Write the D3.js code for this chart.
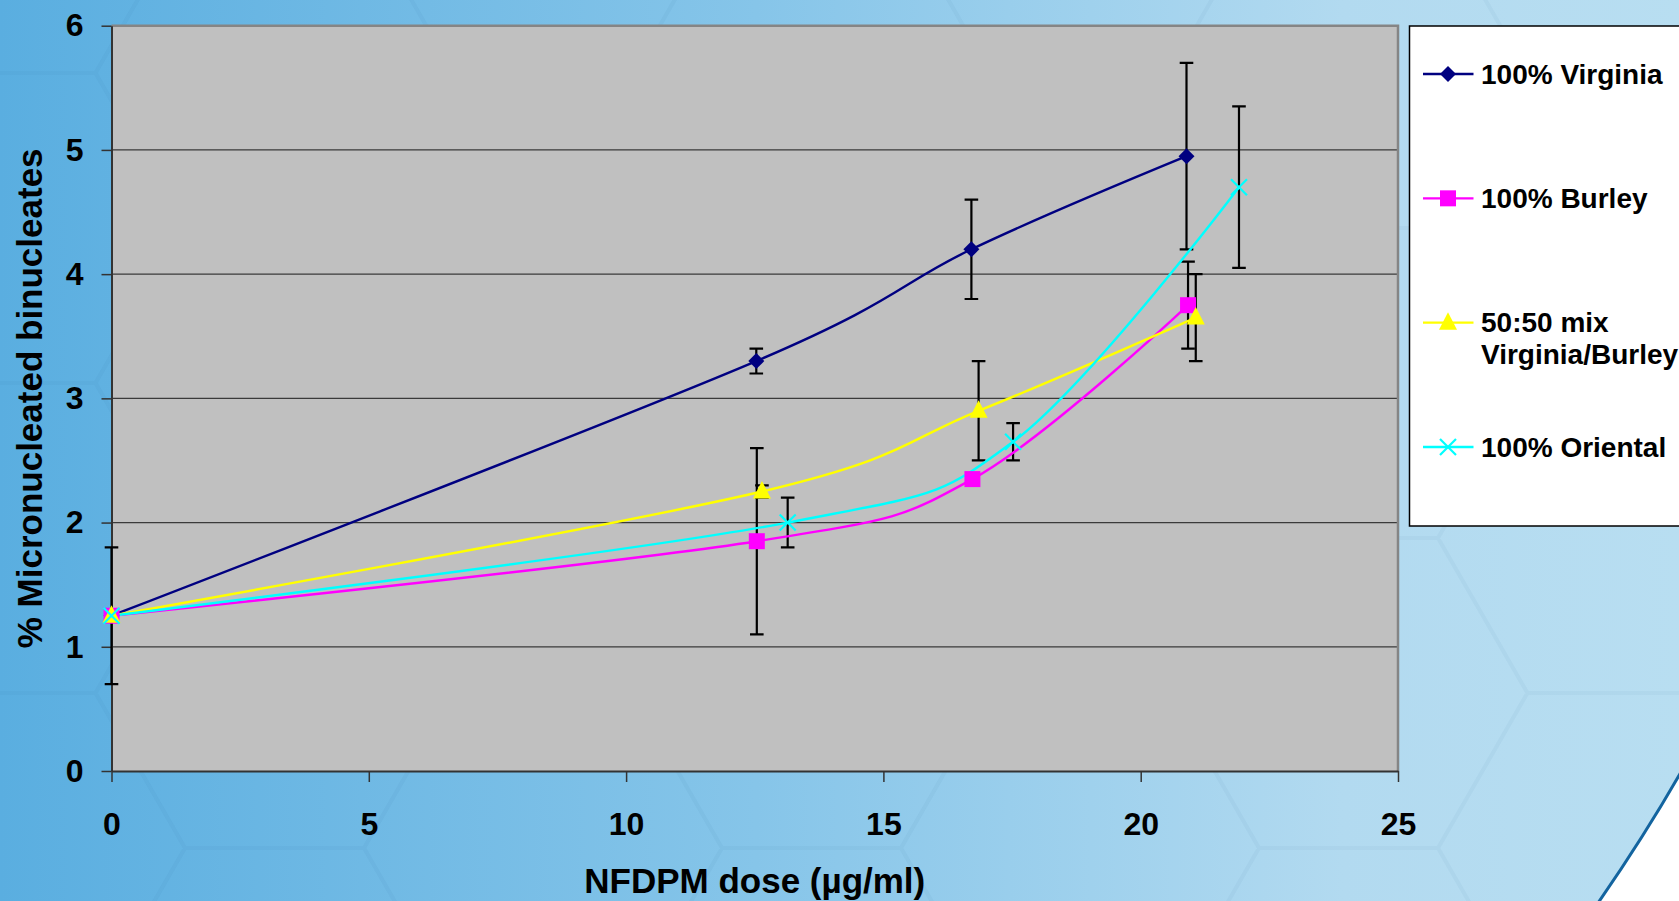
<!DOCTYPE html>
<html>
<head>
<meta charset="utf-8">
<script src="https://cdn.jsdelivr.net/npm/d3@7"></script>
<style>
  html, body { margin: 0; padding: 0; overflow: hidden; background: #5aaee0; }
  svg { display: block; }
  text { font-family: "Liberation Sans", Arial, sans-serif; font-weight: bold; fill: #000; }
</style>
</head>
<body>
<svg id="chart" width="1679" height="901"></svg>
<script>
// ── Data ─────────────────────────────────────────────────────────
const seriesNames  = ["100% Virginia", "100% Burley", "50:50 mix Virginia/Burley", "100% Oriental"];
const legendLines  = [["100% Virginia"], ["100% Burley"], ["50:50 mix", "Virginia/Burley"], ["100% Oriental"]];

const virginiaDose = [0, 12.53, 16.71, 20.89];
const virginiaMN   = [1.25, 3.30, 4.20, 4.95];
const virginiaErr  = [0.55, 0.10, 0.40, 0.75];

const burleyDose   = [0, 12.54, 16.73, 20.92];
const burleyMN     = [1.25, 1.85, 2.35, 3.75];
const burleyErr    = [0, 0.75, 0, 0.35];

const mixDose      = [0, 12.64, 16.85, 21.07];
const mixMN        = [1.25, 2.25, 2.90, 3.65];
const mixErr       = [0, 0.05, 0.40, 0.35];

const orientalDose = [0, 13.14, 17.52, 21.91];
const orientalMN   = [1.25, 2.00, 2.65, 4.70];
const orientalErr  = [0, 0.20, 0.15, 0.65];

const xTicks = [0, 5, 10, 15, 20, 25];
const yTicks = [0, 1, 2, 3, 4, 5, 6];

// ── Config ────────────────────────────────────────────────────────
const W = 1679, H = 901;
const plot = { left: 111.5, right: 1398, top: 25.7, bottom: 771 };
const COLORS  = ["#000080", "#ff00ff", "#ffff00", "#00ffff"];
const MARKERS = ["diamond", "square", "triangle", "cross"];

const series = [
  { dose: virginiaDose, mn: virginiaMN, err: virginiaErr },
  { dose: burleyDose,   mn: burleyMN,   err: burleyErr },
  { dose: mixDose,      mn: mixMN,      err: mixErr },
  { dose: orientalDose, mn: orientalMN, err: orientalErr },
].map((s, i) => ({
  name: seriesNames[i],
  color: COLORS[i],
  marker: MARKERS[i],
  points: s.dose.map((d, k) => ({ dose: d, mn: s.mn[k], err: s.err[k] }))
}));

const x = d3.scaleLinear().domain([0, 25]).range([plot.left, plot.right]);
const y = d3.scaleLinear().domain([0, 6]).range([plot.bottom, plot.top]);

const svg = d3.select("#chart");

// ── Background ───────────────────────────────────────────────────
const defs = svg.append("defs");
const grad = defs.append("linearGradient").attr("id", "bg")
  .attr("x1", 0).attr("y1", 0).attr("x2", 1).attr("y2", 0);
[[0, "#5aaee0"], [0.45, "#86c5e9"], [0.8, "#b2daf0"], [1, "#b8def1"]]
  .forEach(([o, c]) => grad.append("stop").attr("offset", o).attr("stop-color", c));

svg.append("rect").attr("width", W).attr("height", H).attr("fill", "url(#bg)");

// faint honeycomb
const side = 179, hexH = side * Math.sqrt(3);
let hexD = "";
for (let i = -1; i < 12; i++) {
  for (let j = -4; j < 4; j++) {
    const cx = 6 + 1.5 * side * i;
    const cy = 848 + hexH * j + (Math.abs(i) % 2 ? hexH / 2 : 0);
    const pts = d3.range(6).map(k => {
      const a = Math.PI / 3 * k;
      return [cx + side * Math.cos(a), cy + side * Math.sin(a)];
    });
    hexD += "M" + pts.map(p => p.join(",")).join("L") + "Z";
  }
}
svg.append("path").attr("d", hexD)
  .attr("fill", "none").attr("stroke", "rgba(20,80,140,0.04)").attr("stroke-width", 4);

// white swoosh bottom right
svg.append("path")
  .attr("d", `M${W + 2},772 Q1645,835 1598,${H + 2} L${W + 2},${H + 2} Z`)
  .attr("fill", "#ffffff").attr("stroke", "#13649f").attr("stroke-width", 3);

// ── Plot area ────────────────────────────────────────────────────
svg.append("rect")
  .attr("x", plot.left).attr("y", plot.top)
  .attr("width", plot.right - plot.left).attr("height", plot.bottom - plot.top)
  .attr("fill", "#c0c0c0");

svg.append("g")
  .selectAll("line")
  .data(yTicks.filter(t => t > 0 && t < 6))
  .join("line")
  .attr("x1", plot.left).attr("x2", plot.right)
  .attr("y1", d => y(d)).attr("y2", d => y(d))
  .attr("stroke", "#3a3a3a").attr("stroke-width", 1.2);

// top + right border
svg.append("path")
  .attr("d", `M${plot.left},${plot.top}H${plot.right}V${plot.bottom}`)
  .attr("fill", "none").attr("stroke", "#858585").attr("stroke-width", 2.5);

// ── Axes ─────────────────────────────────────────────────────────
const yAxis = svg.append("g")
  .attr("transform", `translate(${plot.left},0)`)
  .call(d3.axisLeft(y).tickValues(yTicks).tickFormat(d3.format("d"))
    .tickSize(10).tickSizeOuter(0).tickPadding(18));

const xAxis = svg.append("g")
  .attr("transform", `translate(0,${plot.bottom})`)
  .call(d3.axisBottom(x).tickValues(xTicks).tickFormat(d3.format("d"))
    .tickSize(11).tickSizeOuter(0).tickPadding(30));

[yAxis, xAxis].forEach(ax => {
  ax.select(".domain").attr("stroke", "#333").attr("stroke-width", 2);
  ax.selectAll(".tick line").attr("stroke", "#333").attr("stroke-width", 1.5);
  ax.selectAll(".tick text")
    .attr("fill", "#000")
    .style("font-family", '"Liberation Sans", Arial, sans-serif')
    .style("font-weight", "bold")
    .style("font-size", "32px");
});

svg.append("text")
  .attr("x", (plot.left + plot.right) / 2).attr("y", 893)
  .attr("text-anchor", "middle").style("font-size", "35px")
  .text("NFDPM dose (µg/ml)");

svg.append("text")
  .attr("transform", `translate(42,${(plot.top + plot.bottom) / 2}) rotate(-90)`)
  .attr("text-anchor", "middle").style("font-size", "35px")
  .text("% Micronucleated binucleates");

// ── Marks ────────────────────────────────────────────────────────
function markerPath(type) {
  switch (type) {
    case "diamond":  return "M0,-8L8,0L0,8L-8,0Z";
    case "square":   return "M-8,-8H8V8H-8Z";
    case "triangle": return "M0,-10.5L9,7H-9Z";
    case "cross":    return "M-8,-8L8,8M8,-8L-8,8";
  }
}
function styleMarker(sel, s) {
  if (s.marker === "cross") {
    sel.attr("fill", "none").attr("stroke", s.color).attr("stroke-width", 2.2);
  } else {
    sel.attr("fill", s.color).attr("stroke", "none");
  }
}

// error bars
const capW = 6.8;
series.forEach(s => {
  const g = svg.append("g").attr("stroke", "#000").attr("stroke-width", 2.2).attr("fill", "none");
  g.selectAll("path")
    .data(s.points.filter(p => p.err > 0))
    .join("path")
    .attr("d", p => {
      const px = x(p.dose), y1 = y(p.mn + p.err), y2 = y(p.mn - p.err);
      return `M${px},${y1}V${y2}M${px - capW},${y1}H${px + capW}M${px - capW},${y2}H${px + capW}`;
    });
});

const line = d3.line()
  .x(d => x(d.dose))
  .y(d => y(d.mn))
  .curve(d3.curveCatmullRom.alpha(0));

series.forEach(s => {
  svg.append("path")
    .datum(s.points)
    .attr("d", line)
    .attr("fill", "none")
    .attr("stroke", s.color)
    .attr("stroke-width", 2.4);
});

series.forEach(s => {
  svg.append("g").selectAll("path")
    .data(s.points)
    .join("path")
    .attr("transform", p => `translate(${x(p.dose)},${y(p.mn)})`)
    .attr("d", markerPath(s.marker))
    .call(styleMarker, s);
});

// ── Legend ───────────────────────────────────────────────────────
const legend = svg.append("g");
legend.append("rect")
  .attr("x", 1409.5).attr("y", 26).attr("width", 300).attr("height", 500)
  .attr("fill", "#fff").attr("stroke", "#000").attr("stroke-width", 1.5);

const rowY = d3.scaleLinear().domain([0, 3]).range([74, 447]);

series.forEach((s, i) => {
  const ly = rowY(i);
  const row = legend.append("g").attr("transform", `translate(0,${ly})`);
  row.append("line")
    .attr("x1", 1423).attr("x2", 1473.5).attr("y1", 0).attr("y2", 0)
    .attr("stroke", s.color).attr("stroke-width", 2.4);
  row.append("path")
    .attr("transform", "translate(1448,0)")
    .attr("d", markerPath(s.marker))
    .call(styleMarker, s);
  const t = row.append("text").attr("x", 1481).attr("y", 9.5).style("font-size", "28px");
  legendLines[i].forEach((ln, k) => {
    t.append("tspan").attr("x", 1481).attr("dy", k === 0 ? 0 : 32).text(ln);
  });
});
</script>
</body>
</html>
